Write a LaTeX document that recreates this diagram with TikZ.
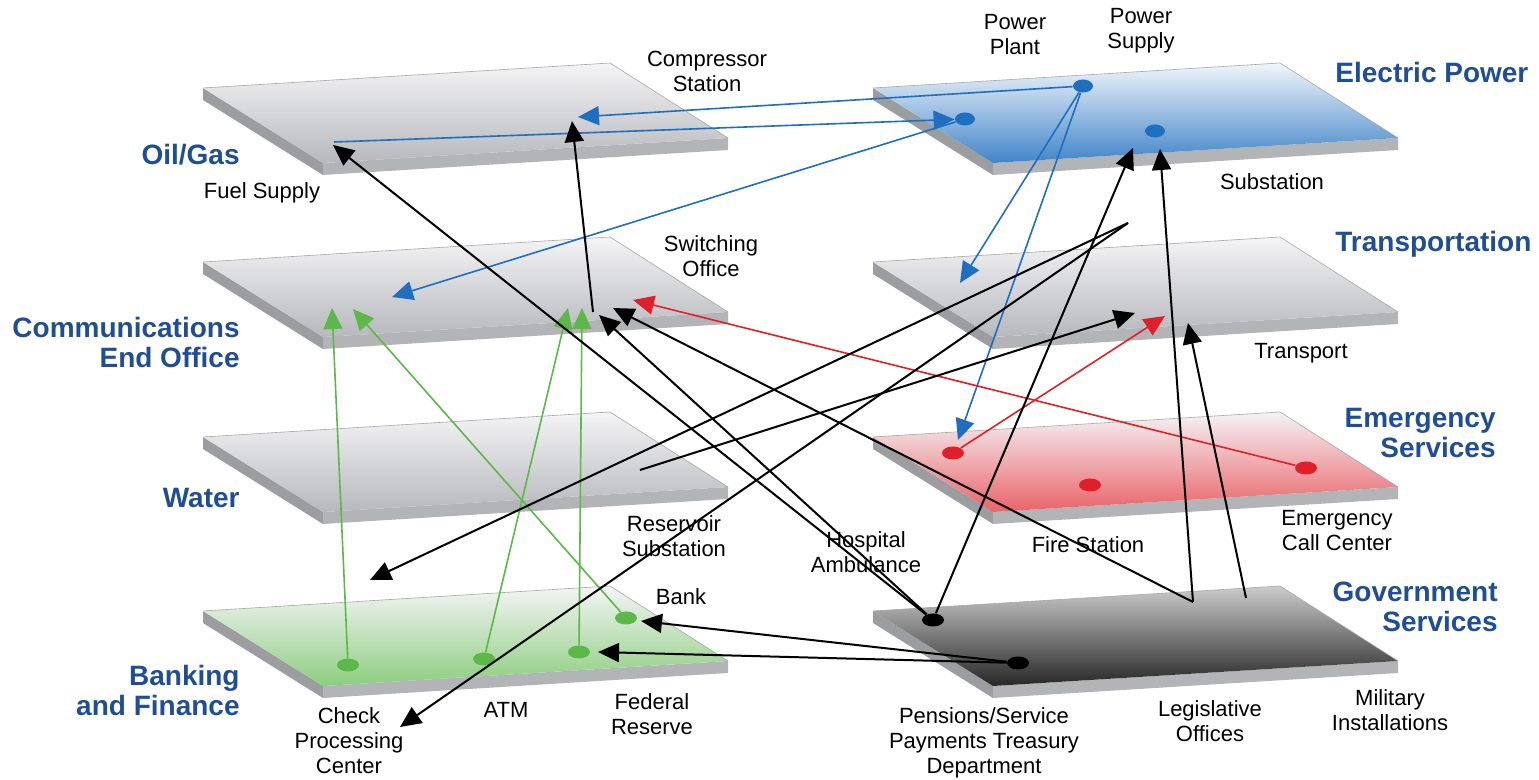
\documentclass[tikz,border=0pt]{standalone}
\usepackage{fontspec}
\setmainfont{Liberation Sans}
\usetikzlibrary{arrows.meta,shapes.geometric}

\definecolor{labelblue}{HTML}{1F4E96}
\definecolor{linkblue}{HTML}{1E6FC0}
\definecolor{linkred}{HTML}{E02028}
\definecolor{linkgreen}{HTML}{5CB848}
\definecolor{platehi}{HTML}{F4F4F6}
\definecolor{platelo}{HTML}{B7B8BC}
\definecolor{plateside}{HTML}{9C9DA1}
\definecolor{platefront}{HTML}{B3B4B8}

\tikzset{
  arrowlink/.style={line width=1pt,-{Triangle[length=10.5pt,width=9.5pt]}},
  bluelink/.style={arrowlink,linkblue,line width=0.8pt},
  redlink/.style={arrowlink,linkred,line width=0.8pt},
  greenlink/.style={arrowlink,linkgreen,line width=0.8pt},
  layerdot/.style={ellipse,fill=#1,minimum width=11pt,minimum height=6.5pt,inner sep=0pt},
  smalltag/.style={font=\fontsize{11}{12.5}\selectfont,align=center,inner sep=0pt},
  sectortag/.style={font=\bfseries\fontsize{14}{15}\selectfont,text=labelblue,inner sep=0pt}
}

% one layer plate: origin (back-left corner), colour at back, colour at front
\newcommand{\layerplate}[3]{%
  \begin{scope}[shift={#1}]
    \fill[plateside] (0,0) -- (120,75) -- (120,87) -- (0,12) -- cycle;
    \fill[platefront] (120,75) -- (525,50) -- (525,62) -- (120,87) -- cycle;
    \shade[top color=#2,bottom color=#3] (0,0) -- (407,-25) -- (525,50) -- (120,75) -- cycle;
    \draw[gray!70,line width=0.3pt] (0,0) -- (407,-25) -- (525,50);
  \end{scope}}

\begin{document}
\begin{tikzpicture}[x=0.5pt,y=-0.5pt]
\useasboundingbox (0,0) rectangle (1539,780);

% plates
\layerplate{(203,88)}{platehi}{platelo}
\layerplate{(203,262)}{platehi}{platelo}
\layerplate{(203,437)}{platehi}{platelo}
\layerplate{(203,611)}{platehi}{linkgreen!70}
\layerplate{(873,88)}{platehi!85!linkblue!30}{linkblue!85}
\layerplate{(873,262)}{platehi}{platelo}
\layerplate{(873,437)}{platehi}{linkred!70}
\layerplate{(873,611)}{gray!40}{black!85}

% sector names
\node[sectortag,anchor=east] (oilgas) at (240,155) {Oil/Gas};
\node[sectortag,anchor=east,align=right] (comms) at (240,342) {Communications\\End Office};
\node[sectortag,anchor=east] (water) at (240,498) {Water};
\node[sectortag,anchor=east,align=right] (banking) at (240,690) {Banking\\and Finance};
\node[sectortag,anchor=west] (power) at (1335,72) {Electric Power};
\node[sectortag,anchor=west] (transp) at (1335,244) {Transportation};
\node[sectortag,anchor=east,align=right] (emerg) at (1496,433) {Emergency\\Services};
\node[sectortag,anchor=east,align=right] (govt) at (1498,607) {Government\\Services};

% facility names
\node[smalltag] (compname) at (707,71) {Compressor\\Station};
\node[smalltag] (plantname) at (1015,35) {Power\\Plant};
\node[smalltag] (supplyname) at (1141,31) {Power\\Supply};
\node[smalltag] (fuelname) at (262,193) {Fuel Supply};
\node[smalltag] (substname) at (1272,182) {Substation};
\node[smalltag] (switchname) at (711,256) {Switching\\Office};
\node[smalltag] (transname) at (1301,353) {Transport};
\node[smalltag] (resname) at (674,536) {Reservoir\\Substation};
\node[smalltag] (hospname) at (866,552) {Hospital\\Ambulance};
\node[smalltag] (firename) at (1088,545) {Fire Station};
\node[smalltag] (callname) at (1337,531) {Emergency\\Call Center};
\node[smalltag] (bankname) at (681,597) {Bank};
\node[smalltag] (checkname) at (349,741) {Check\\Processing\\Center};
\node[smalltag] (atmname) at (506,710) {ATM};
\node[smalltag] (fedname) at (652,714) {Federal\\Reserve};
\node[smalltag] (pensname) at (984,743) {Pensions/Service\\Payments Treasury\\Department};
\node[smalltag] (legname) at (1210,721) {Legislative\\Offices};
\node[smalltag] (milname) at (1390,710) {Military\\Installations};

% facilities on the plates
\node[layerdot=linkblue,minimum width=10pt] (esupply) at (1083,86) {};
\node[layerdot=linkblue,minimum width=10pt] (eplant) at (965,119) {};
\node[layerdot=linkblue,minimum width=10pt] (esubst) at (1155,131) {};
\node[layerdot=linkred] (emfire) at (953,453) {};
\node[layerdot=linkred] (emmid) at (1090,485) {};
\node[layerdot=linkred] (emcall) at (1306,468) {};
\node[layerdot=black] (gvhosp) at (933,620) {};
\node[layerdot=black] (gvpens) at (1018,663) {};
\node[layerdot=linkgreen] (bkcheck) at (348,665) {};
\node[layerdot=linkgreen] (bkatm) at (484,659) {};
\node[layerdot=linkgreen] (bkfed) at (579,652) {};
\node[layerdot=linkgreen] (bkbank) at (626,618) {};

% free ends
\coordinate (fuel) at (334,142);
\coordinate (fueltip) at (333,145);
\coordinate (cmpblue) at (578,117);
\coordinate (cmpblack) at (572,121);
\coordinate (comblue) at (392,297);
\coordinate (comg1) at (332,308);
\coordinate (comg2) at (353,309);
\coordinate (comg3) at (568,308);
\coordinate (comg4) at (582,308);
\coordinate (swt) at (593,312);
\coordinate (swtip1) at (599,315);
\coordinate (swtip2) at (613,308);
\coordinate (swtred) at (633,300);
\coordinate (trnblue) at (960,283);
\coordinate (trntip1) at (1135,313);
\coordinate (trnred) at (1165,316);
\coordinate (trntip2) at (1188,323);
\coordinate (emgblue) at (958,440);
\coordinate (subtip1) at (1133,148);
\coordinate (subtip2) at (1160,149);
\coordinate (elsub) at (1128,223);
\coordinate (wtres) at (640,470);
\coordinate (wtrtip) at (370,580);
\coordinate (chktip) at (400,727);
\coordinate (banktip) at (641,621);
\coordinate (fedtip) at (598,652);
\coordinate (gvleg) at (1193,602);
\coordinate (gvmil) at (1246,598);

% electric power links
\draw[bluelink] (esupply) -- (cmpblue);
\draw[bluelink] (fuel) -- (eplant);
\draw[bluelink] (eplant) -- (comblue);
\draw[bluelink] (esupply) -- (trnblue);
\draw[bluelink] (esupply) -- (emgblue);

% emergency links
\draw[redlink] (emcall) -- (swtred);
\draw[redlink] (emfire) -- (trnred);

% banking links
\draw[greenlink] (bkcheck) -- (comg1);
\draw[greenlink] (bkbank) -- (comg2);
\draw[greenlink] (bkatm) -- (comg3);
\draw[greenlink] (bkfed) -- (comg4);

% other links
\draw[arrowlink] (swt) -- (cmpblack);
\draw[arrowlink] (gvhosp) -- (fueltip);
\draw[arrowlink] (gvhosp) -- (swtip1);
\draw[arrowlink] (gvleg) -- (swtip2);
\draw[arrowlink] (gvhosp) -- (subtip1);
\draw[arrowlink] (gvleg) -- (subtip2);
\draw[arrowlink] (gvmil) -- (trntip2);
\draw[arrowlink] (wtres) -- (trntip1);
\draw[arrowlink] (elsub) -- (wtrtip);
\draw[arrowlink] (elsub) -- (chktip);
\draw[arrowlink] (gvpens) -- (banktip);
\draw[arrowlink] (gvpens) -- (fedtip);
\end{tikzpicture}
\end{document}
